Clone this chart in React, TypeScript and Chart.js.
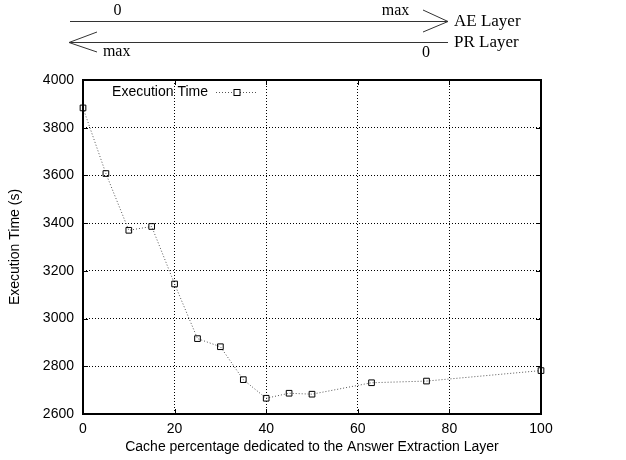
import React, { useEffect, useRef } from "react";
import { Chart, registerables } from "chart.js";

Chart.register(...registerables);

const cachePercent = [0, 5, 10, 15, 20, 25, 30, 35, 40, 45, 50, 63, 75, 100];
const executionTime = [3883, 3608, 3370, 3386, 3145, 2916, 2882, 2744, 2666, 2687, 2683, 2731, 2738, 2782];
const seriesLabel = "Execution Time";
const xTitle = "Cache percentage dedicated to the Answer Extraction Layer";
const yTitle = "Execution Time (s)";
const aeLabels = ["0", "max", "AE Layer"];
const prLabels = ["max", "0", "PR Layer"];

const SANS = "'Liberation Sans', Arial, Helvetica, sans-serif";
const SERIF = "'Liberation Serif', 'Times New Roman', serif";

const decorPlugin = {
  id: "decor",
  afterDraw(chart: any) {
    const { ctx, chartArea } = chart;
    const { left, right, top, bottom } = chartArea;
    const xs = chart.scales.x;
    const ys = chart.scales.y;
    ctx.save();
    // inward ticks
    ctx.strokeStyle = "#000";
    ctx.lineWidth = 1;
    ctx.setLineDash([]);
    ctx.beginPath();
    ys.ticks.forEach((t: any) => {
      const y = Math.round(ys.getPixelForValue(t.value)) + 0.5;
      ctx.moveTo(left, y);
      ctx.lineTo(left + 5, y);
      ctx.moveTo(right, y);
      ctx.lineTo(right - 5, y);
    });
    xs.ticks.forEach((t: any) => {
      const x = Math.round(xs.getPixelForValue(t.value)) + 0.5;
      ctx.moveTo(x, bottom);
      ctx.lineTo(x, bottom - 5);
      ctx.moveTo(x, top);
      ctx.lineTo(x, top + 5);
    });
    ctx.stroke();
    // border
    ctx.lineWidth = 2;
    ctx.strokeRect(left, top, right - left, bottom - top);

    // legend
    const ds = chart.data.datasets[0];
    ctx.font = `14px ${SANS}`;
    ctx.fillStyle = "#000";
    ctx.textAlign = "right";
    ctx.textBaseline = "middle";
    const ly = 92;
    ctx.fillText(ds.label, 208, ly);
    ctx.strokeStyle = "#555";
    ctx.lineWidth = 1;
    ctx.setLineDash([1, 2]);
    ctx.beginPath();
    ctx.moveTo(216, ly + 0.5);
    ctx.lineTo(257, ly + 0.5);
    ctx.stroke();
    ctx.setLineDash([]);
    ctx.strokeStyle = "#000";
    ctx.fillStyle = "#fff";
    ctx.fillRect(234, ly - 2.5, 6, 6);
    ctx.strokeRect(234, ly - 2.5, 6, 6);

    // top annotation
    ctx.strokeStyle = "#333";
    ctx.lineWidth = 1;
    ctx.beginPath();
    ctx.moveTo(70, 21.5);
    ctx.lineTo(448, 21.5);
    ctx.moveTo(423, 10);
    ctx.lineTo(448, 21.5);
    ctx.lineTo(423, 32);
    ctx.moveTo(69, 42.5);
    ctx.lineTo(448, 42.5);
    ctx.moveTo(97, 32);
    ctx.lineTo(69, 42.5);
    ctx.lineTo(97, 52);
    ctx.stroke();
    ctx.fillStyle = "#000";
    ctx.textBaseline = "alphabetic";
    ctx.textAlign = "center";
    ctx.font = `16px ${SERIF}`;
    ctx.fillText(aeLabels[0], 117.5, 15);
    ctx.fillText(aeLabels[1], 395.5, 15);
    ctx.fillText(prLabels[0], 116.7, 56);
    ctx.fillText(prLabels[1], 426, 57);
    ctx.textAlign = "left";
    ctx.font = `17px ${SERIF}`;
    ctx.fillText(aeLabels[2], 454, 26);
    ctx.fillText(prLabels[2], 454, 47);
    ctx.restore();
  },
};

export default function App() {
  const ref = useRef<HTMLCanvasElement | null>(null);
  useEffect(() => {
    const canvas = ref.current;
    if (!canvas) return;
    const chart = new Chart(canvas, {
      type: "line",
      data: {
        datasets: [
          {
            label: seriesLabel,
            data: cachePercent.map((x, i) => ({ x, y: executionTime[i] })),
            borderColor: "#555",
            borderWidth: 1,
            borderDash: [1, 2],
            pointStyle: "rect",
            pointRadius: 4,
            pointBorderColor: "#000",
            pointBackgroundColor: "rgba(255,255,255,0)",
            pointBorderWidth: 1,
            tension: 0,
            clip: false,
          },
        ],
      },
      options: {
        animation: false,
        responsive: false,
        layout: { padding: { left: 0, top: 80, right: 85, bottom: 0 } },
        plugins: { legend: { display: false }, tooltip: { enabled: false } },
        scales: {
          x: {
            type: "linear",
            min: 0,
            max: 100,
            ticks: { stepSize: 20, color: "#000", font: { family: SANS, size: 14 }, padding: 7, callback: (v: any) => String(v) },
            grid: { color: "#000", lineWidth: 1, drawTicks: false },
            border: { display: false, dash: [1, 2] },
            title: { display: true, text: xTitle, color: "#000", font: { family: SANS, size: 14 }, padding: { top: 0, bottom: 4 } },
            afterFit: (s: any) => {
              s.height = 46;
            },
          },
          y: {
            type: "linear",
            min: 2600,
            max: 4000,
            ticks: { stepSize: 200, color: "#000", font: { family: SANS, size: 14 }, padding: 9, callback: (v: any) => String(v) },
            grid: { color: "#000", lineWidth: 1, drawTicks: false },
            border: { display: false, dash: [1, 2] },
            title: { display: true, text: yTitle, color: "#000", font: { family: SANS, size: 14 }, padding: { top: 7, bottom: 0 } },
            afterFit: (s: any) => {
              s.width = 83;
            },
          },
        },
      },
      plugins: [decorPlugin],
    });
    return () => chart.destroy();
  }, []);
  return (
    <div style={{ position: "absolute", left: 0, top: 0, width: 626, height: 460, background: "#fff" }}>
      <canvas ref={ref} width={626} height={460} style={{ width: 626, height: 460, display: "block" }} />
    </div>
  );
}
